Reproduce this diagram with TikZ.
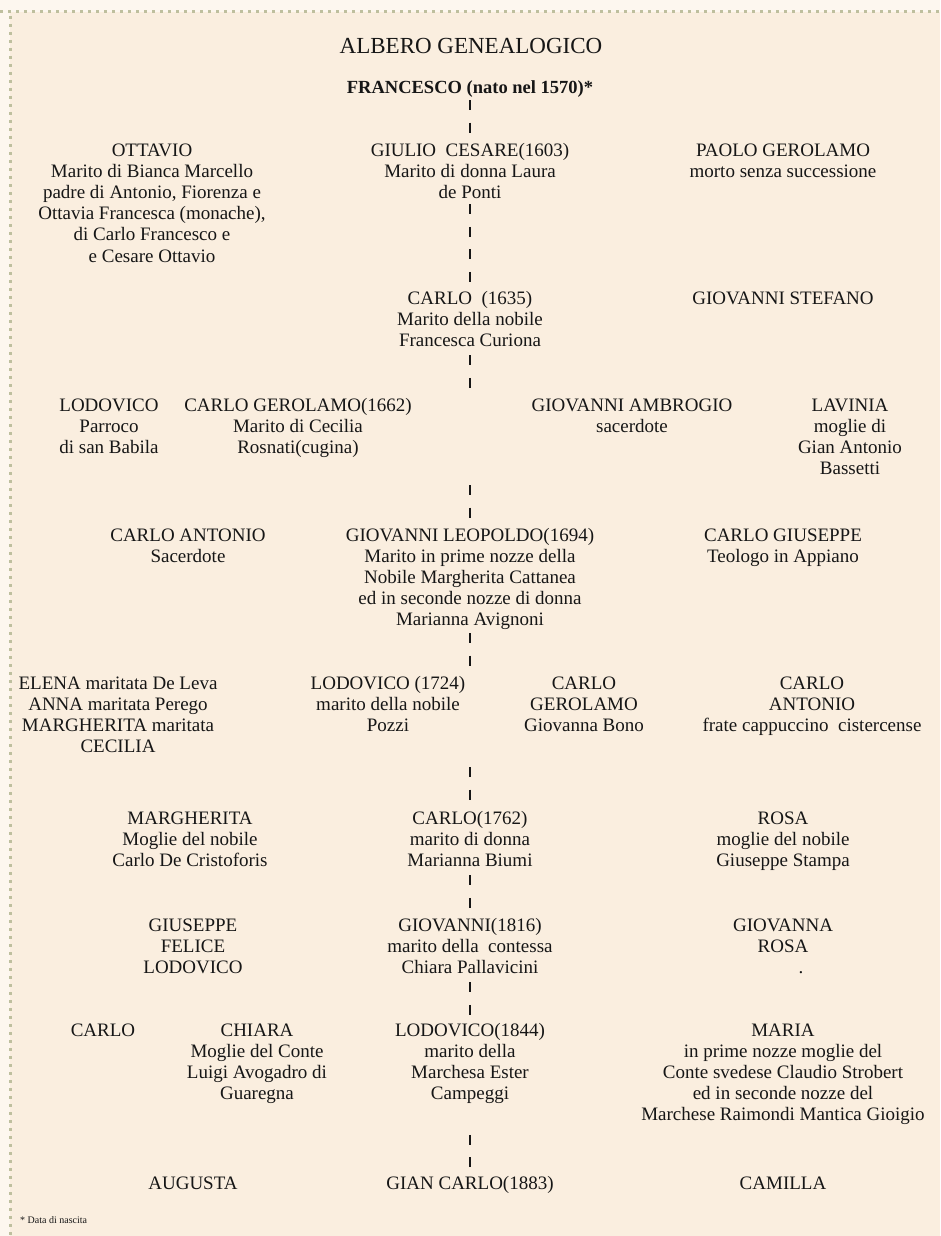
\documentclass[tikz,border=0pt]{standalone}
\usepackage{fontspec}
\setmainfont{Liberation Serif}
\definecolor{bgin}{HTML}{FAEEDF}
\definecolor{bgout}{HTML}{FDF7EF}
\definecolor{dotc}{HTML}{BEBF9E}
\definecolor{ink}{HTML}{161616}
\begin{document}
% each person node is placed at the baseline of its LAST line
\begin{tikzpicture}[x=1pt,y=-1pt,
  person/.style={inner sep=0pt, align=center, text=ink, anchor=base,
    font=\fontsize{19}{21.2}\selectfont},
  link/.style={draw=ink, line width=2.6pt, dash pattern=on 10pt off 12.5pt},
  border/.style={draw=dotc, line width=3pt, dash pattern=on 3pt off 5pt}]
\useasboundingbox (0,0) rectangle (940,1236);
\fill[bgout] (0,0) rectangle (940,1236);
\fill[bgin] (10,12) rectangle (940,1236);
\draw[border] (0,12) -- (940,12);
\draw[border] (10,16) -- (10,1236);

\node[inner sep=0pt, anchor=base, text=ink, font=\fontsize{23}{26}\selectfont] (title) at (471,54) {ALBERO GENEALOGICO};
\node[inner sep=0pt, anchor=base, text=ink, font=\fontsize{18.5}{21}\selectfont\bfseries] (fr) at (470,94) {FRANCESCO (nato nel 1570)*};

% row 1 (first baseline 156)
\node[person] (ottavio) at (152,262) {OTTAVIO\\Marito di Bianca Marcello\\padre di Antonio, Fiorenza e\\Ottavia Francesca (monache),\\di Carlo Francesco e\\e Cesare Ottavio};
\node[person] (giulio) at (470,198.4) {GIULIO\ \ CESARE(1603)\\Marito di donna Laura\\de Ponti};
\node[person] (paolo) at (783,177.2) {PAOLO GEROLAMO\\morto senza successione};
% row 2 (304)
\node[person] (carlo1) at (470,346.4) {CARLO\ \ (1635)\\Marito della nobile\\Francesca Curiona};
\node[person] (giovst) at (783,304) {GIOVANNI STEFANO};
% row 3 (411)
\node[person] (lodo) at (109,453.4) {LODOVICO\\Parroco\\di san Babila};
\node[person] (carlog) at (298,453.4) {CARLO GEROLAMO(1662)\\Marito di Cecilia\\Rosnati(cugina)};
\node[person] (giovamb) at (632,432.2) {GIOVANNI AMBROGIO\\sacerdote};
\node[person] (lavinia) at (850,474.6) {LAVINIA\\moglie di\\Gian Antonio\\Bassetti};
% row 4 (541)
\node[person] (carloant) at (188,562.2) {CARLO ANTONIO\\Sacerdote};
\node[person] (giovl) at (470,625.8) {GIOVANNI LEOPOLDO(1694)\\Marito in prime nozze della\\Nobile Margherita Cattanea\\ed in seconde nozze di donna\\Marianna Avignoni};
\node[person] (carlogiu) at (783,562.2) {CARLO GIUSEPPE\\Teologo in Appiano};
% row 5 (689)
\node[person] (elena) at (118,752.6) {ELENA maritata De Leva\\ANNA maritata Perego\\MARGHERITA maritata\\CECILIA};
\node[person] (lod1) at (388,731.4) {LODOVICO (1724)\\marito della nobile\\Pozzi};
\node[person] (carloger) at (584,731.4) {CARLO\\GEROLAMO\\Giovanna Bono};
\node[person] (carloant2) at (812,731.4) {CARLO\\ANTONIO\\frate cappuccino\ \ cistercense};
% row 6 (824)
\node[person] (margh) at (190,866.4) {MARGHERITA\\Moglie del nobile\\Carlo De Cristoforis};
\node[person] (carlo2) at (470,866.4) {CARLO(1762)\\marito di donna\\Marianna Biumi};
\node[person] (rosa) at (783,866.4) {ROSA\\moglie del nobile\\Giuseppe Stampa};
% row 7 (931)
\node[person] (giuseppe) at (193,973.4) {GIUSEPPE\\FELICE\\LODOVICO};
\node[person] (giov2) at (470,973.4) {GIOVANNI(1816)\\marito della\ \ contessa\\Chiara Pallavicini};
\node[person] (giovanna) at (783,952.2) {GIOVANNA\\ROSA};
\node[person] (gdot) at (801,973.4) {.};
% row 8 (1036)
\node[person] (carlo8) at (103,1036) {CARLO};
\node[person] (chiara) at (257,1099.6) {CHIARA\\Moglie del Conte\\Luigi Avogadro di\\Guaregna};
\node[person] (lod2) at (470,1099.6) {LODOVICO(1844)\\marito della\\Marchesa Ester\\Campeggi};
\node[person] (maria) at (783,1120.8) {MARIA\\in prime nozze moglie del\\Conte svedese Claudio Strobert\\ed in seconde nozze del\\Marchese Raimondi Mantica Gioigio};
% row 9 (1189)
\node[person] (augusta) at (193,1189) {AUGUSTA};
\node[person] (gianc) at (470,1189) {GIAN CARLO(1883)};
\node[person] (camilla) at (783,1189) {CAMILLA};

\node[inner sep=0pt, anchor=base west, text=ink, font=\fontsize{10}{12}\selectfont] (note) at (20,1223) {* Data di nascita};

% line of descent
\coordinate (c3a) at (470,388);
\coordinate (c3b) at (470,485);
\coordinate (c5a) at (470,666);
\coordinate (c5b) at (470,767);
\draw[link, shorten <=2pt] (fr.south) -- (giulio.north);
\draw[link, shorten <=5.5pt] (giulio.south) -- (carlo1.north);
\draw[link, shorten <=8.6pt] (carlo1.south) -- (c3a);
\draw[link] (c3b) -- (giovl.north);
\draw[link, shorten <=3pt] (giovl.south) -- (c5a);
\draw[link] (c5b) -- (carlo2.north);
\draw[link, shorten <=8.6pt] (carlo2.south) -- (giov2.north);
\draw[link, shorten <=8.6pt] (giov2.south) -- (lod2.north);
\draw[link, shorten <=31pt] (lod2.south) -- (gianc.north);
\end{tikzpicture}
\end{document}
